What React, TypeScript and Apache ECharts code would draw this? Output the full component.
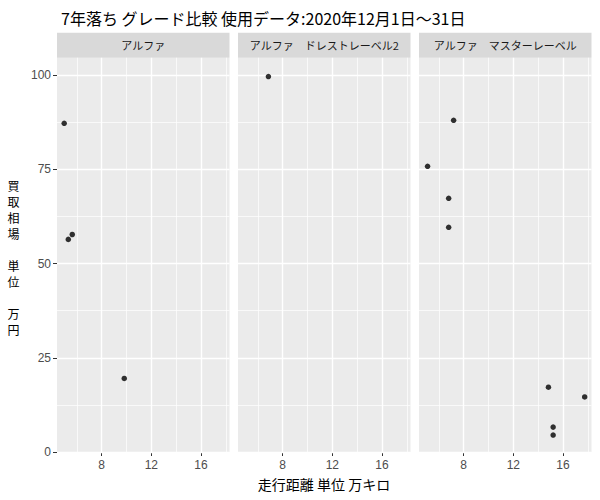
import React, { useEffect, useRef } from "react";
import * as echarts from "echarts";

const titleText = "7年落ち グレード比較 使用データ:2020年12月1日～31日";
const panelNames = ["アルファ", "アルファ　ドレストレーベル2", "アルファ　マスターレーベル"];
const xAxisTitle = "走行距離 単位 万キロ";
const yAxisTitle = "買\n取\n相\n場\n\n単\n位\n\n万\n円";

const xTicks = [8, 12, 16];
const xMinor = [6, 10, 14, 18];
const yTicks = [0, 25, 50, 75, 100];
const yMinor = [12.5, 37.5, 62.5, 87.5];

const alphaX = [4.98, 5.31, 5.63, 9.82];
const alphaY = [87.2, 56.4, 57.7, 19.5];
const dressX = [6.85];
const dressY = [99.6];
const masterX = [7.19, 5.09, 6.79, 6.79, 14.83, 17.75, 15.21, 15.21];
const masterY = [88.0, 75.8, 67.3, 59.6, 17.2, 14.6, 6.6, 4.5];

const panelXs = [alphaX, dressX, masterX];
const panelYs = [alphaY, dressY, masterY];

const X_MIN = 4.4;
const X_MAX = 18.3;
const Y_MIN = 0;
const Y_MAX = 104.6;

const FONT = "'Noto Sans CJK JP', 'Noto Sans', sans-serif";
const NUM_FONT = "Arial, 'Liberation Sans', sans-serif";

export default function App() {
  const ref = useRef<HTMLDivElement>(null);
  useEffect(() => {
    if (!ref.current) return;
    document.body.style.margin = "0";
    const chart = echarts.init(ref.current, undefined, { renderer: "svg" });
    const lefts = [57, 238, 419];
    const panelW = 172.5;
    const top = 57.7;
    const height = 394.3;
    const stripTop = 32.7;

    const grids = lefts.map((l) => ({
      left: l,
      top,
      width: panelW,
      height,
      show: true,
      backgroundColor: "#EBEBEB",
      borderWidth: 0,
      containLabel: false,
    }));

    const xAxes = lefts.map((_, i) => ({
      type: "value",
      gridIndex: i,
      min: X_MIN,
      max: X_MAX,
      axisLine: { show: false },
      axisTick: {
        show: true,
        customValues: xTicks,
        length: 4,
        lineStyle: { color: "#333333", width: 1 },
      },
      axisLabel: {
        show: true,
        customValues: xTicks,
        color: "#4D4D4D",
        fontSize: 12,
        fontFamily: NUM_FONT,
        margin: 7,
      },
      splitLine: { show: false },
    }));

    const yAxes = lefts.map((_, i) => ({
      type: "value",
      gridIndex: i,
      min: Y_MIN,
      max: Y_MAX,
      axisLine: { show: false },
      axisTick: {
        show: i === 0,
        customValues: yTicks,
        length: 4,
        lineStyle: { color: "#333333", width: 1 },
      },
      axisLabel: {
        show: i === 0,
        customValues: yTicks,
        color: "#4D4D4D",
        fontSize: 12,
        fontFamily: NUM_FONT,
        margin: 6,
      },
      splitLine: { show: false },
    }));

    const gridLineData = [
      ...xTicks.map((v) => ({ xAxis: v, lineStyle: { color: "#FFFFFF", width: 1.4, type: "solid" } })),
      ...xMinor.map((v) => ({ xAxis: v, lineStyle: { color: "#FFFFFF", width: 0.7, type: "solid" } })),
      ...yTicks.map((v) => ({ yAxis: v, lineStyle: { color: "#FFFFFF", width: 1.4, type: "solid" } })),
      ...yMinor.map((v) => ({ yAxis: v, lineStyle: { color: "#FFFFFF", width: 0.7, type: "solid" } })),
    ];

    const series = lefts.map((_, i) => ({
      type: "scatter",
      xAxisIndex: i,
      yAxisIndex: i,
      z: 3,
      symbol: "circle",
      symbolSize: 5.5,
      itemStyle: { color: "#000000" },
      data: panelXs[i].map((x, k) => [x, panelYs[i][k]]),
      markLine: {
        z: 1,
        silent: true,
        symbol: ["none", "none"],
        label: { show: false },
        emphasis: { disabled: true },
        animation: false,
        data: gridLineData,
      },
    }));

    const graphics: any[] = [];
    lefts.forEach((l, i) => {
      graphics.push({
        type: "rect",
        shape: { x: l, y: stripTop, width: panelW, height: top - stripTop },
        style: { fill: "#D9D9D9" },
        silent: true,
      });
      graphics.push({
        type: "text",
        x: l + panelW / 2,
        y: (stripTop + top) / 2,
        style: {
          text: panelNames[i],
          fill: "#1A1A1A",
          fontSize: 11,
          fontFamily: FONT,
          align: "center",
          verticalAlign: "middle",
        },
        silent: true,
      });
    });
    graphics.push({
      type: "text",
      x: 13.5,
      y: 257,
      style: {
        text: yAxisTitle,
        fill: "#000000",
        fontSize: 12,
        lineHeight: 16,
        fontFamily: FONT,
        align: "center",
        verticalAlign: "middle",
      },
      silent: true,
    });
    graphics.push({
      type: "text",
      x: 324,
      y: 484,
      style: {
        text: xAxisTitle,
        fill: "#000000",
        fontSize: 14,
        fontFamily: FONT,
        align: "center",
        verticalAlign: "middle",
      },
      silent: true,
    });

    chart.setOption({
      animation: false,
      backgroundColor: "#FFFFFF",
      title: {
        text: titleText,
        left: 56,
        top: 5,
        textStyle: { fontSize: 16, fontWeight: "normal", color: "#000000", fontFamily: FONT },
      },
      grid: grids,
      xAxis: xAxes,
      yAxis: yAxes,
      series,
      graphic: graphics,
    });
    return () => chart.dispose();
  }, []);
  return <div ref={ref} style={{ width: 600, height: 500 }} />;
}
